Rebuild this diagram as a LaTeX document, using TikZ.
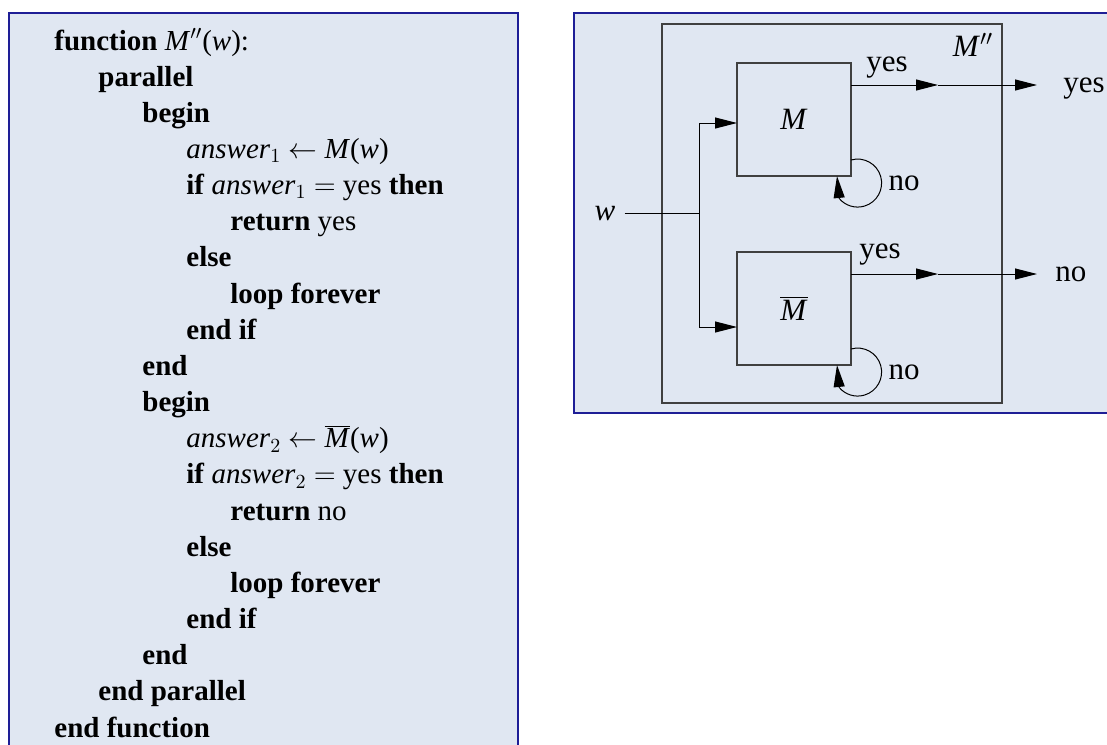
\documentclass[tikz,border=0pt]{standalone}
\usepackage{fontspec}
\setmainfont{Liberation Serif}
\usetikzlibrary{arrows.meta,calc}

\definecolor{panelfill}{RGB}{224,231,242}
\definecolor{paneldraw}{RGB}{30,30,150}
\definecolor{boxdraw}{RGB}{64,64,64}

\newcommand{\ans}[1]{\textit{answer}$_{#1}$}
\newcommand{\Mbar}{$\overline{\mbox{\textit{M}}}$}

\tikzset{
  panel/.style={draw=paneldraw, fill=panelfill, line width=1pt},
  codeline/.style={anchor=base west, inner sep=0pt, font=\fontsize{14.5}{17}\selectfont},
  tm/.style={draw=boxdraw, line width=0.75pt, inner sep=0pt, outer sep=0pt, font=\fontsize{15.5}{18}\selectfont},
  lbl/.style={inner sep=0pt, text depth=0pt, font=\fontsize{15.5}{18}\selectfont},
  arr/.style={-{Triangle[length=11pt,width=5.5pt]}, line width=0.5pt},
}

\begin{document}
\begin{tikzpicture}[x=0.5pt,y=0.5pt]
  \useasboundingbox (0,0) rectangle (1107,-744);
  \clip (0,0) rectangle (1107,-744);

  % Panels
  \draw[panel] (9,-13) rectangle (518,-770);
  \draw[panel] (574,-13) rectangle (1130,-413);

  % Pseudocode, one line per node
  \foreach \lvl/\txt [count=\i] in {
    0/{\textbf{function} \textit{M}$''$(\textit{w}):},
    1/{\textbf{parallel}},
    2/{\textbf{begin}},
    3/{\ans{1} $\leftarrow$ \textit{M}(\textit{w})},
    3/{\textbf{if} \ans{1} $=$ yes \textbf{then}},
    4/{\textbf{return} yes},
    3/{\textbf{else}},
    4/{\textbf{loop forever}},
    3/{\textbf{end if}},
    2/{\textbf{end}},
    2/{\textbf{begin}},
    3/{\ans{2} $\leftarrow$ \Mbar(\textit{w})},
    3/{\textbf{if} \ans{2} $=$ yes \textbf{then}},
    4/{\textbf{return} no},
    3/{\textbf{else}},
    4/{\textbf{loop forever}},
    3/{\textbf{end if}},
    2/{\textbf{end}},
    1/{\textbf{end parallel}},
    0/{\textbf{end function}}}
    \node[codeline] (line\i) at ({54+44*\lvl},{-50-36.16*(\i-1)}) {\txt};

  % Machines
  \node[tm, minimum width=170pt, minimum height=189.5pt] (Mpp) at (832,-213.5) {};
  \node[lbl] (Mpplab) at (973,-45) {\textit{M}$''$};
  \node[tm, minimum width=57pt, minimum height=56.5pt] (M) at (794,-119.5) {\textit{M}};
  \node[tm, minimum width=57pt, minimum height=56.5pt] (Mbar) at (794,-308.5) {\Mbar};

  % Input
  \node[lbl] (w) at (605,-213) {\textit{w}};
  \coordinate (br) at (699,-213);
  \draw[line width=0.5pt, shorten <=4.5pt] (w) -- (br);
  \draw[arr] (br) |- ($(M.west)+(0,-3.5)$);
  \draw[arr] (br) |- ($(Mbar.west)+(0,-18.5)$);

  % Outputs
  \coordinate (t1) at (938,-85);
  \coordinate (t2) at (938,-274);
  \node[lbl, anchor=west] (yesout) at (1063,-85) {yes};
  \node[lbl, anchor=west] (noout) at (1055,-274) {no};
  \draw[arr] ($(M.north east)+(0,-22)$) -- (t1);
  \draw[arr, shorten >=13pt] (t1) -- (yesout);
  \draw[arr] ($(Mbar.north east)+(0,-22)$) -- (t2);
  \draw[arr, shorten >=9pt] (t2) -- (noout);
  \node[lbl, anchor=base] (yes1) at (887,-71) {yes};
  \node[lbl, anchor=base] (yes2) at (880,-258) {yes};

  % Loops
  \draw[arr] ($(M.south east)+(0,16)$) arc[start angle=106, end angle=-140, radius=24]
    -- ($(M.south east)+(-14,0)$);
  \draw[arr] ($(Mbar.south east)+(0,16)$) arc[start angle=106, end angle=-140, radius=24]
    -- ($(Mbar.south east)+(-14,0)$);
  \node[lbl] (no1) at (904,-183) {no};
  \node[lbl] (no2) at (904,-372) {no};
\end{tikzpicture}
\end{document}
